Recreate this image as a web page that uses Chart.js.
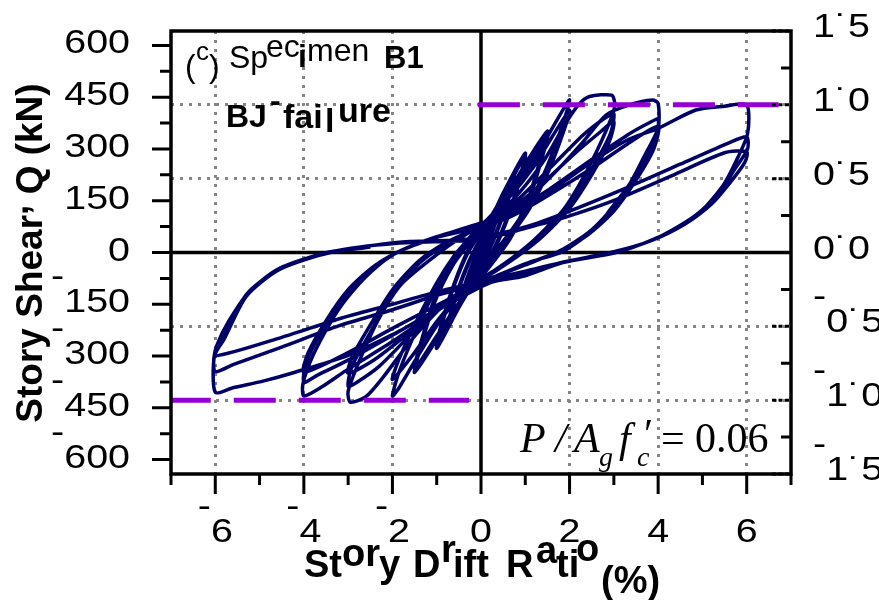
<!DOCTYPE html>
<html>
<head>
<meta charset="utf-8">
<title>Specimen B1 – story shear vs drift</title>
<script src="https://cdn.jsdelivr.net/npm/chart.js@4.4.1/dist/chart.umd.min.js"></script>
<style>
  html, body { margin: 0; padding: 0; background: #fff; }
  canvas { display: block; }
</style>
</head>
<body>
<canvas id="hyst" width="879" height="600"></canvas>
<script>
// axis ticks
const driftTicks = [-6, -4, -2, 0, 2, 4, 6];
const driftMinor = [-7, -5, -3, -1, 1, 3, 5, 7];
const shearTicks = [-600, -450, -300, -150, 0, 150, 300, 450, 600];
const shearMinor = [-525, -375, -225, -75, 75, 225, 375, 525];
const ratioTicks = [-1.5, -1.0, -0.5, 0, 0.5, 1.0, 1.5];
const ratioMinor = [-1.25, -0.75, -0.25, 0.25, 0.75, 1.25];

// hysteresis record, [drift %, shear kN], grouped by target drift
const loops025 = [[0,0],[0.1,40],[0.25,92],[0.17,58],[0.04,8],[-0.1,-38],[-0.25,-88],[-0.17,-54],[-0.04,-6],
  [0.1,36],[0.25,90],[0.17,55],[0.04,6],[-0.1,-36],[-0.25,-86],[-0.17,-52],[-0.04,-4]];
const loops050 = [[0.12,40],[0.3,105],[0.5,165],[0.4,118],[0.22,52],[0.06,2],[-0.12,-44],[-0.3,-104],[-0.5,-160],[-0.4,-112],[-0.22,-46],[-0.06,2],
  [0.12,46],[0.3,106],[0.5,160],[0.4,112],[0.22,48],[0.06,-2],[-0.12,-46],[-0.3,-100],[-0.5,-155],[-0.4,-106],[-0.22,-42],[-0.06,4]];
const loops075 = [[0.15,56],[0.45,145],[0.75,225],[0.62,162],[0.4,78],[0.15,4],[-0.1,-52],[-0.4,-130],[-0.75,-215],[-0.62,-152],[-0.4,-70],[-0.15,4],
  [0.1,60],[0.4,138],[0.75,218],[0.62,154],[0.4,72],[0.15,-2],[-0.1,-56],[-0.4,-126],[-0.75,-210],[-0.62,-146],[-0.4,-64],[-0.15,8]];
const loops100 = [[0.1,62],[0.5,172],[1.0,288],[0.85,205],[0.6,104],[0.3,14],[0,-52],[-0.5,-160],[-1.0,-278],[-0.85,-194],[-0.6,-94],[-0.3,-2],
  [0,58],[0.5,164],[1.0,280],[0.85,196],[0.6,98],[0.3,8],[0,-56],[-0.5,-154],[-1.0,-270],[-0.85,-186],[-0.6,-88],[-0.3,4]];
const loops150 = [[0,66],[0.5,150],[1.0,256],[1.5,352],[1.32,262],[1.05,150],[0.65,45],[0.3,-22],[0,-70],[-0.5,-150],[-1.0,-252],[-1.5,-348],[-1.32,-256],[-1.05,-145],[-0.65,-40],[-0.3,22],
  [0,66],[0.5,146],[1.0,246],[1.5,338],[1.32,248],[1.05,138],[0.65,38],[0.3,-24],[0,-72],[-0.5,-146],[-1.0,-242],[-1.5,-336],[-1.32,-244],[-1.05,-134],[-0.65,-32],[-0.3,26]];
const loops200 = [[0,76],[0.6,160],[1.2,268],[1.6,358],[1.88,420],[2.0,442],[1.84,370],[1.48,245],[1.1,147],[0.72,70],[0.35,8],[0,-58],[-0.5,-128],[-1.0,-212],[-1.5,-316],[-1.85,-392],[-2.0,-416],[-1.86,-350],[-1.55,-251],[-1.03,-107],[-0.6,-14],[-0.3,38],
  [0,78],[0.6,154],[1.2,250],[1.6,334],[2.0,412],[1.85,345],[1.5,228],[1.1,128],[0.72,58],[0.35,0],[0,-62],[-0.5,-124],[-1.0,-200],[-1.5,-290],[-2.0,-368],[-1.86,-312],[-1.5,-210],[-1.0,-88],[-0.6,-8],[-0.3,36]];
const loops300 = [[0,74],[0.7,150],[1.4,262],[1.9,372],[2.2,428],[2.45,452],[2.95,456],[3.02,432],[2.97,399],[2.6,290],[2.22,197],[1.85,122],[1.48,72],[1.1,25],[0.72,-14],[0.3,-52],[0,-76],[-0.8,-148],[-1.6,-258],[-2.2,-360],[-2.6,-418],[-2.95,-434],[-3.0,-402],[-2.7,-300],[-2.3,-190],[-1.8,-92],[-1.0,-6],[-0.5,40],
  [0,78],[0.8,150],[1.6,250],[2.3,340],[2.8,390],[3.0,402],[2.92,344],[2.5,242],[2.0,142],[1.4,56],[0.9,2],[0.4,-44],[0,-80],[-0.8,-145],[-1.6,-240],[-2.3,-330],[-2.8,-376],[-3.0,-388],[-2.92,-332],[-2.5,-232],[-2.0,-122],[-1.4,-32],[-0.8,24],[-0.3,56],
  [0.5,110],[1.3,190],[2.1,285],[2.7,350],[3.0,380],[2.9,322],[2.5,225],[2.0,128],[1.4,48],[0.9,-4],[0.4,-48],[0,-80],[-0.8,-142],[-1.6,-230],[-2.4,-310],[-3.0,-350],[-2.9,-300],[-2.5,-210],[-2.0,-108],[-1.4,-24],[-0.8,28],[-0.3,58]];
const loops400 = [[0.4,96],[1.0,150],[1.7,236],[2.3,320],[2.83,399],[3.35,428],[3.87,442],[4.0,432],[4.0,361],[3.7,282],[3.35,197],[2.95,130],[2.6,72],[1.85,3],[1.1,-28],[0.3,-70],[0,-86],[-1.0,-170],[-2.0,-258],[-3.0,-338],[-3.6,-390],[-4.0,-416],[-4.02,-380],[-3.8,-300],[-3.4,-203],[-3.05,-136],[-2.5,-58],[-1.9,0],[-1.0,44],[-0.2,78],
  [0.6,110],[1.5,180],[2.5,270],[3.3,340],[3.8,376],[4.0,386],[3.95,330],[3.6,240],[3.1,150],[2.5,66],[1.8,6],[1.0,-34],[0.2,-80],[-0.8,-150],[-2.0,-240],[-3.0,-312],[-3.7,-356],[-4.0,-376],[-3.95,-320],[-3.6,-228],[-3.1,-128],[-2.5,-48],[-1.8,6],[-1.0,46],[-0.2,74],
  [0.6,100],[1.5,164],[2.5,244],[3.3,314],[4.0,366],[3.9,300],[3.5,210],[3.0,120],[2.4,50],[1.7,0],[1.0,-36],[0.2,-76],[-0.8,-140],[-2.0,-220],[-3.0,-290],[-4.0,-347],[-3.9,-290],[-3.5,-198],[-3.0,-108],[-2.4,-38],[-1.7,12],[-1.0,44],[-0.2,68]];
const loops600 = [[0.6,100],[1.5,172],[2.5,262],[3.3,326],[4.0,360],[4.85,413],[5.5,424],[6.0,428],[6.02,345],[5.75,262],[5.45,191],[4.85,104],[4.1,48],[3.05,0],[1.85,-29],[0.95,-69],[0.2,-88],[-1.0,-168],[-2.0,-238],[-3.0,-298],[-4.2,-347],[-4.9,-372],[-5.6,-392],[-6.0,-405],[-6.02,-300],[-5.8,-251],[-5.3,-127],[-4.55,-49],[-3.4,0],[-1.9,29],[-0.2,40],
  [1.0,74],[2.0,120],[3.35,191],[4.5,256],[5.6,318],[6.0,335],[6.02,300],[5.72,240],[5.42,180],[4.85,108],[4.1,50],[3.2,6],[2.0,-24],[1.0,-58],[0.2,-84],[-1.0,-124],[-2.0,-166],[-3.2,-212],[-4.5,-274],[-5.6,-325],[-6.0,-345],[-6.02,-296],[-5.8,-240],[-5.3,-122],[-4.55,-46],[-3.4,2],[-1.9,27],[0,38],
  [1.0,70],[2.0,106],[3.05,153],[4.3,222],[5.5,289],[6.0,292],[5.96,262],[5.62,202],[5.2,140],[4.6,82],[3.8,32],[3.0,2],[2.0,-24],[1.0,-54],[0.2,-78],[-1.0,-114],[-2.0,-150],[-3.2,-192],[-4.5,-246],[-6.0,-300],[-5.96,-268],[-5.7,-200],[-5.2,-108],[-4.5,-44],[-3.6,-4],[-2.5,16]];

// normalised capacity lines (Q / Qmax = ±1)
const capPos = [[-0.07, 1.0], [6.72, 1.0]];
const capNeg = [[-7.05, -1.0], [-0.27, -1.0]];

const record = [].concat(loops025, loops050, loops075, loops100, loops150, loops200, loops300, loops400, loops600);
const toXY = arr => arr.map(p => ({ x: p[0], y: p[1] }));

const grey = '#858585';
const SX = 1.16;   // tick font is drawn a little wide
const sans = '"Liberation Sans", Arial, sans-serif';
const serif = '"Liberation Serif", "Times New Roman", serif';

function tickLabel(ctx, text, anchorX, baseY, align, negative) {
  ctx.save();
  ctx.font = '34px ' + sans;
  ctx.fillStyle = '#000';
  ctx.textAlign = 'left';
  ctx.textBaseline = 'alphabetic';
  const w = ctx.measureText(text).width * SX;
  const dw = negative ? ctx.measureText('-').width * SX : 0;
  let numX;
  if (align === 'right') numX = anchorX - w;
  else if (align === 'center') numX = anchorX - (w + dw) / 2 + dw;
  else numX = anchorX + dw;
  ctx.translate(numX, baseY);
  ctx.scale(SX, 1);
  ctx.fillText(text, 0, 0);
  // the minus sign floats above and left of the digits
  if (negative) ctx.fillText('-', -dw / SX, -25);
  ctx.restore();
}

function segments(ctx, list) {
  ctx.save();
  ctx.fillStyle = '#000';
  ctx.textAlign = 'left';
  ctx.textBaseline = 'alphabetic';
  list.forEach(s => {
    ctx.font = s[3];
    ctx.fillText(s[0], s[1], s[2]);
  });
  ctx.restore();
}

const decorPlugin = {
  id: 'decor',
  beforeDatasetsDraw(chart) {
    const { ctx, chartArea: a, scales } = chart;
    const x0 = scales.x.getPixelForValue(0);
    const y0 = scales.y.getPixelForValue(0);
    ctx.save();
    ctx.strokeStyle = '#000';
    ctx.lineWidth = 3.5;
    ctx.beginPath();
    ctx.moveTo(x0, a.top); ctx.lineTo(x0, a.bottom);
    ctx.moveTo(a.left, y0); ctx.lineTo(a.right, y0);
    ctx.stroke();
    ctx.restore();
  },
  afterDraw(chart) {
    const { ctx, chartArea: a, scales } = chart;
    const sx = scales.x, sy = scales.y, sr = scales.y2;
    ctx.save();
    ctx.strokeStyle = '#000';
    ctx.lineWidth = 3;
    ctx.beginPath();
    driftTicks.forEach(v => { const p = sx.getPixelForValue(v); ctx.moveTo(p, a.bottom); ctx.lineTo(p, a.bottom + 20); });
    driftMinor.forEach(v => { const p = sx.getPixelForValue(v); ctx.moveTo(p, a.bottom); ctx.lineTo(p, a.bottom + 11); });
    shearTicks.forEach(v => { const p = sy.getPixelForValue(v); ctx.moveTo(a.left, p); ctx.lineTo(a.left - 19, p); });
    shearMinor.forEach(v => { const p = sy.getPixelForValue(v); ctx.moveTo(a.left, p); ctx.lineTo(a.left - 11, p); });
    ratioMinor.forEach(v => { const p = sr.getPixelForValue(v); ctx.moveTo(a.right, p); ctx.lineTo(a.right - 10, p); });
    ctx.stroke();
    ctx.setLineDash([4, 2.5]);
    ctx.beginPath();
    ratioTicks.forEach(v => { const p = sr.getPixelForValue(v); ctx.moveTo(a.right - 19, p); ctx.lineTo(a.right, p); });
    ctx.stroke();
    ctx.setLineDash([]);
    ctx.lineWidth = 3.5;
    ctx.strokeRect(a.left, a.top, a.right - a.left, a.bottom - a.top);
    ctx.restore();

    // tick labels
    shearTicks.forEach(v => tickLabel(ctx, String(Math.abs(v)), 130, sy.getPixelForValue(v) + 8, 'right', v < 0));
    driftTicks.forEach(v => tickLabel(ctx, String(Math.abs(v)), sx.getPixelForValue(v), 542, 'center', v < 0));
    ratioTicks.forEach(v => tickLabel(ctx, Math.abs(v).toFixed(1).replace('.', '\u02D9'), 813, sr.getPixelForValue(v) + 6, 'left', v < 0));

    // axis titles
    const bold38 = 'bold 38px ' + sans;
    segments(ctx, [
      ['St', 304, 577, bold38], ['or', 342, 566, bold38], ['y', 379, 577, bold38],
      ['D', 413, 577, bold38], ['r', 441, 562, bold38], ['ift', 453, 577, bold38],
      ['R', 506, 577, bold38], ['a', 536, 563, bold38], ['ti', 556, 577, bold38],
      ['o', 576, 561, bold38], ['(%)', 601, 593, bold38]
    ]);

    ctx.save();
    ctx.translate(42, 253);
    ctx.rotate(-Math.PI / 2);
    ctx.font = 'bold 37px ' + sans;
    ctx.fillStyle = '#000';
    ctx.textBaseline = 'alphabetic';
    const partA = 'Story Shear', partB = ',', partC = ' Q (kN)';
    const wA = ctx.measureText(partA).width, wB = ctx.measureText(partB).width, wC = ctx.measureText(partC).width;
    let tx = -(wA + wB + wC) / 2;
    ctx.fillText(partA, tx, 0); tx += wA;
    ctx.fillText(partB, tx, -14); tx += wB;
    ctx.fillText(partC, tx, 0);
    ctx.restore();

    // specimen notes
    const r32 = '32px ' + sans, r26 = '26px ' + sans, b31 = 'bold 31px ' + sans, b32 = 'bold 32px ' + sans, b34 = 'bold 34px ' + sans;
    segments(ctx, [
      ['(', 185, 77, r32], ['c', 196, 60, r26], [')', 209, 77, r32],
      ['Sp', 229, 68, r32], ['ec', 266, 57, r32], ['i', 298, 67, b32], ['men', 307, 61, r32],
      ['B1', 384, 68, b31],
      ['BJ', 226, 127, b32], ['-', 270, 111, b32], ['fai', 283, 128, b34], ['l', 325, 132, b34], ['ure', 338, 122, b34]
    ]);
    const i42 = 'italic 42px ' + serif, i28 = 'italic 28px ' + serif, r42 = '42px ' + serif;
    segments(ctx, [
      ['P', 520, 452, i42], ['/', 555, 452, i42], ['A', 574, 452, i42], ['g', 599, 466, i28],
      ['f', 619, 452, i42], ['\u2032', 644, 448, r42], ['c', 637, 466, i28],
      ['=', 661, 452, r42], ['0.06', 695, 452, r42]
    ]);
  }
};

new Chart(document.getElementById('hyst'), {
  type: 'scatter',
  data: {
    datasets: [
      { data: toXY(capPos), yAxisID: 'y2', showLine: true, borderColor: '#9400D3', borderWidth: 5,
        borderDash: [42, 23], pointRadius: 0, tension: 0, order: 0 },
      { data: toXY(capNeg), yAxisID: 'y2', showLine: true, borderColor: '#9400D3', borderWidth: 5,
        borderDash: [42, 23], pointRadius: 0, tension: 0, order: 0 },
      { data: toXY(record), yAxisID: 'y', showLine: true, borderColor: '#000066', borderWidth: 3.5,
        pointRadius: 0, tension: 0.25, order: 1 }
    ]
  },
  options: {
    responsive: false,
    animation: false,
    devicePixelRatio: 1,
    layout: { padding: { left: 171, right: 88, top: 31, bottom: 126 } },
    plugins: { legend: { display: false }, tooltip: { enabled: false } },
    scales: {
      x: {
        type: 'linear', min: -7, max: 7,
        ticks: { display: false, stepSize: 1 },
        grid: {
          drawTicks: false, lineWidth: 3,
          color: c => { const v = c.tick.value; return (v !== 0 && v % 2 === 0 && Math.abs(v) < 7) ? grey : 'rgba(0,0,0,0)'; }
        },
        border: { display: false, dash: [3, 6] },
        afterFit: s => { s.height = 0; }
      },
      y: {
        type: 'linear', min: -642, max: 642,
        ticks: { display: false, stepSize: 150 },
        grid: { display: false },
        border: { display: false },
        afterFit: s => { s.width = 0; }
      },
      y2: {
        type: 'linear', position: 'right', min: -1.5, max: 1.5,
        ticks: { display: false, stepSize: 0.5 },
        grid: {
          drawTicks: false, lineWidth: 3,
          color: c => { const v = c.tick.value; return (v !== 0 && Math.abs(v) < 1.5) ? grey : 'rgba(0,0,0,0)'; }
        },
        border: { display: false, dash: [3, 6] },
        afterFit: s => { s.width = 0; }
      }
    }
  },
  plugins: [decorPlugin]
});
</script>
</body>
</html>
